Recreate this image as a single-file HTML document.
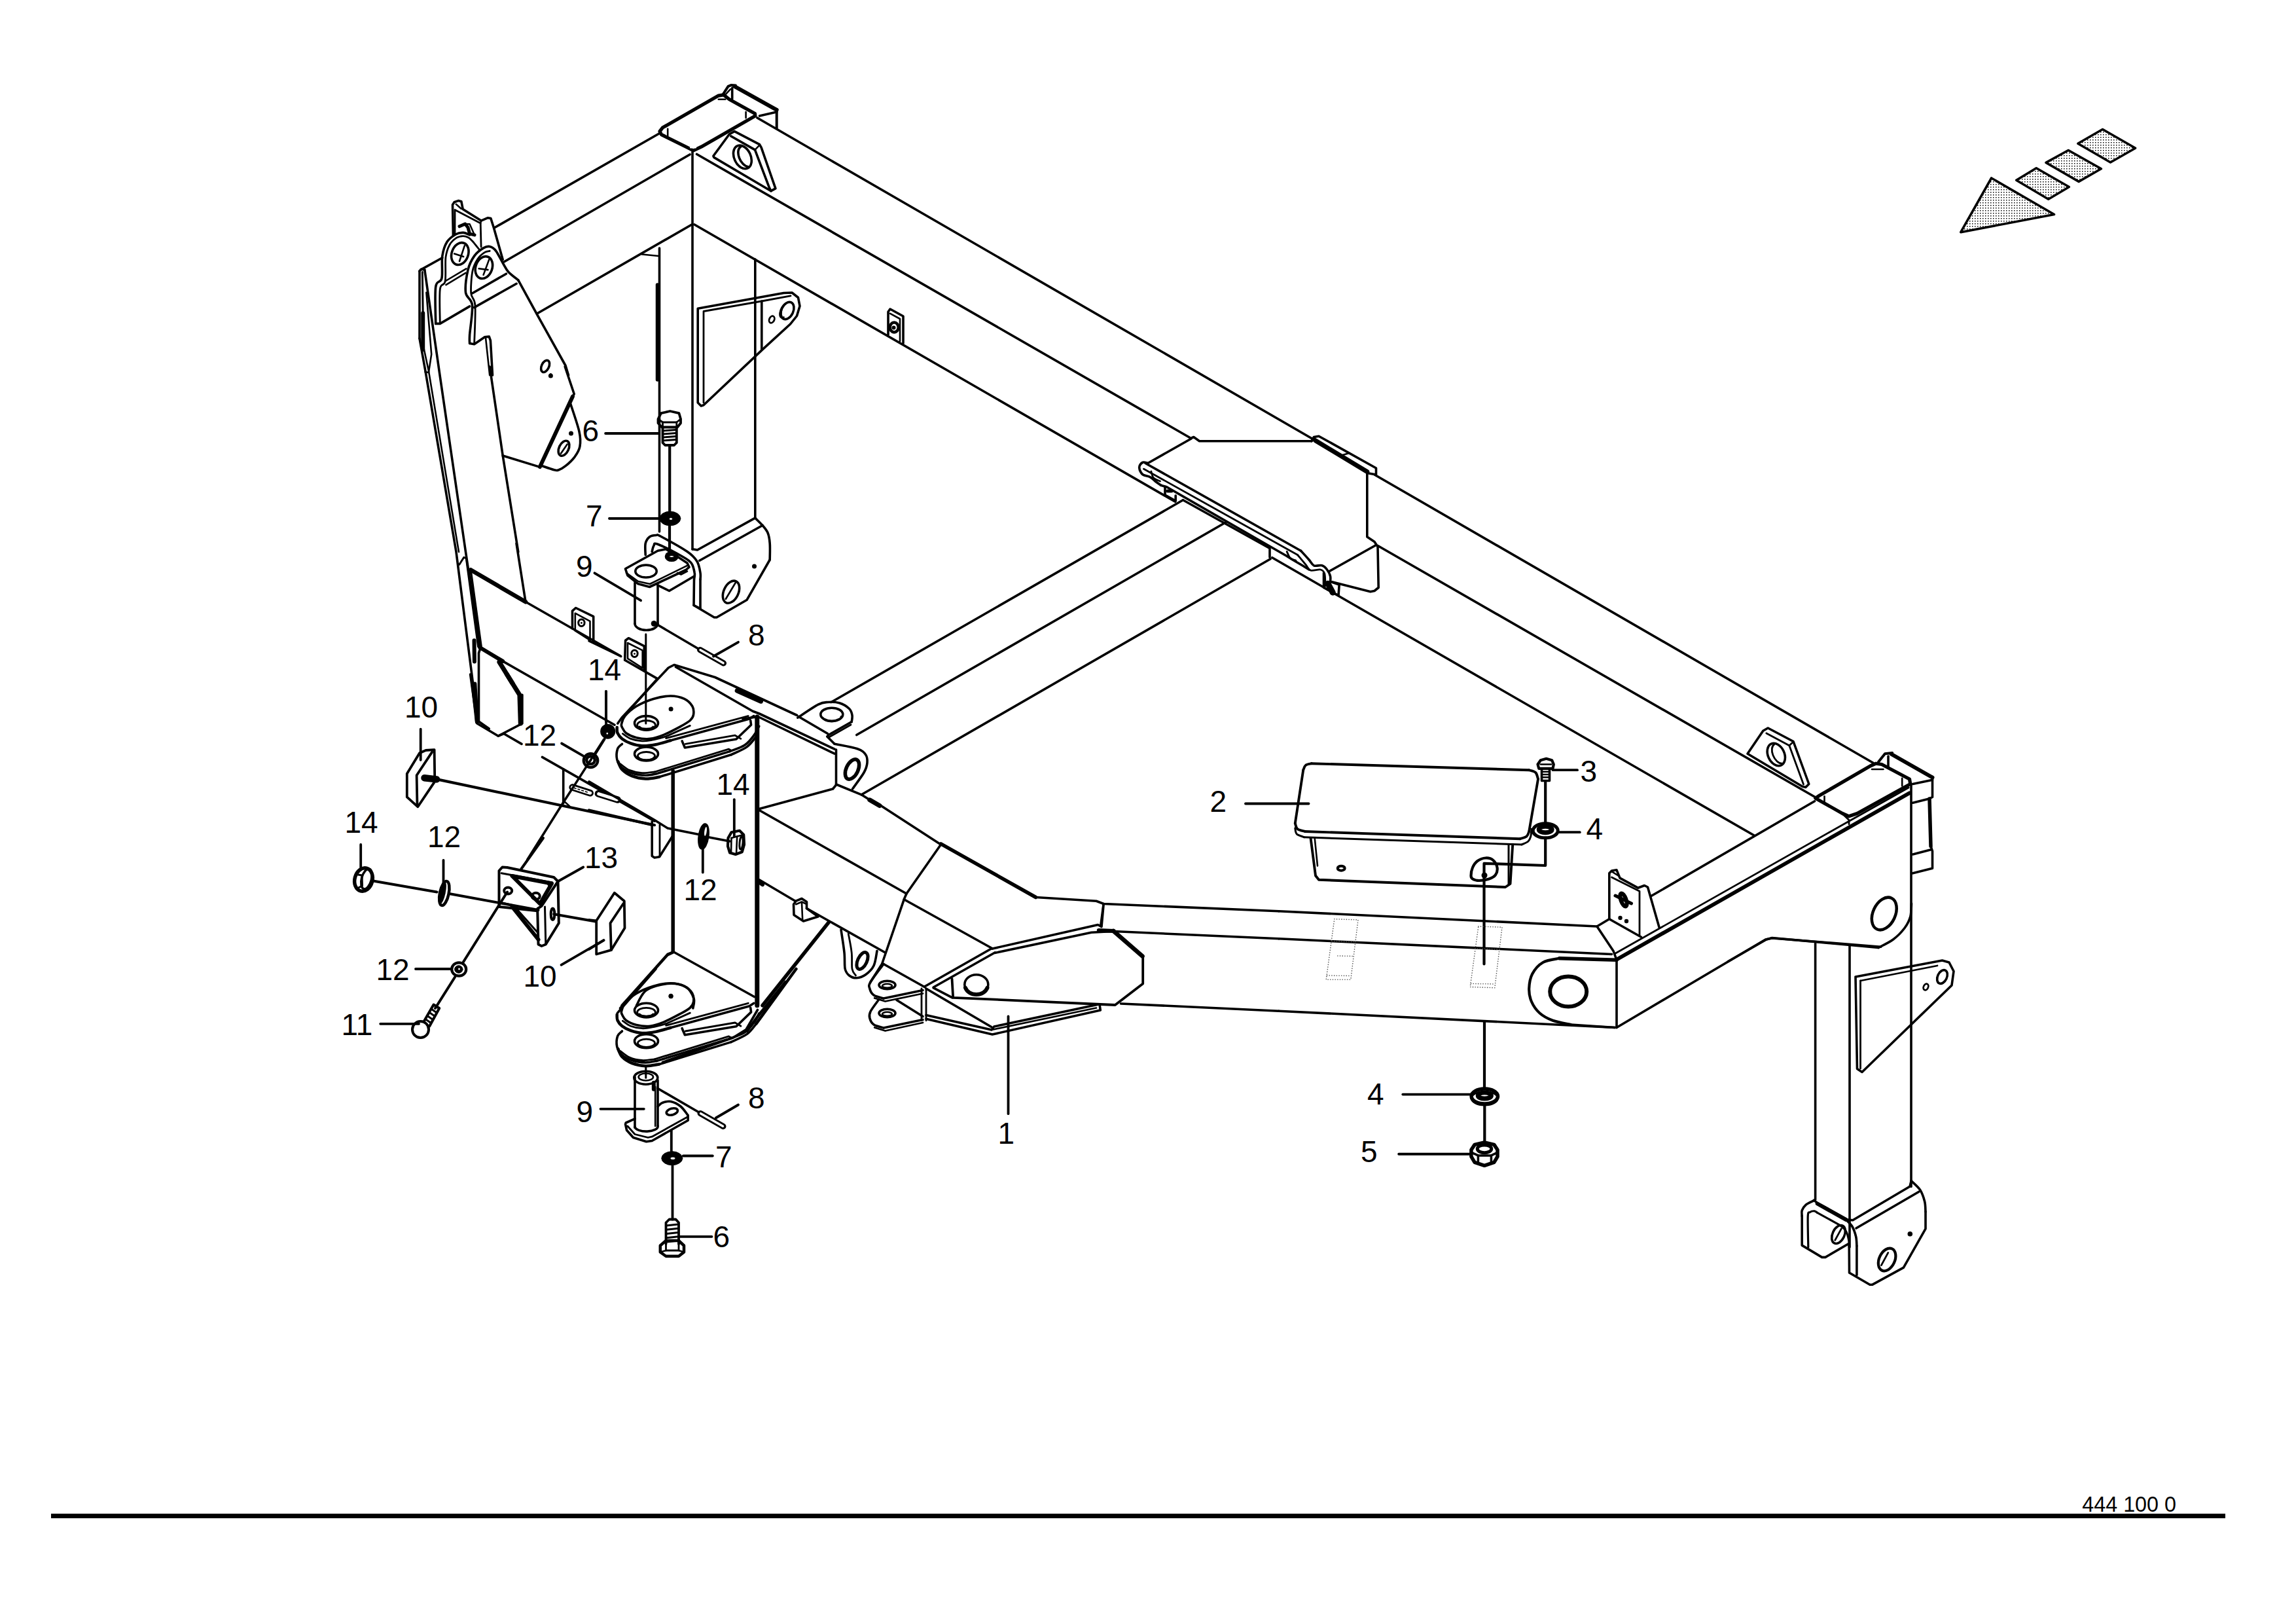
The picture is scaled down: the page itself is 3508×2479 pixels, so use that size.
<!DOCTYPE html>
<html><head><meta charset="utf-8"><title>444 100 0</title>
<style>
html,body{margin:0;padding:0;background:#fff}
svg{display:block}
text{font-family:"Liberation Sans",sans-serif;font-size:46px;fill:#000;stroke:none}
</style></head><body>
<svg width="3508" height="2479" viewBox="0 0 3508 2479" fill="none" stroke="#000" stroke-width="3.6" stroke-linecap="round" stroke-linejoin="round">
<defs><pattern id="dots" width="4" height="4" patternUnits="userSpaceOnUse"><rect width="4" height="4" fill="#fff" stroke="none"/><rect x="1" y="1" width="1.5" height="1.5" fill="#000" stroke="none"/></pattern></defs>
<rect x="0" y="0" width="3508" height="2479" fill="#fff" stroke="none"/>
<path d="M3042.6 272 L3138.5 327.5 L2995.8 354.7 Z" fill="url(#dots)"/>
<path d="M3111.2 256.7 L3161.3 285.5 L3129.7 304.2 L3080.7 275.2 Z" fill="url(#dots)"/>
<path d="M3160.2 229.5 L3210.3 257.8 L3176.1 277.4 L3126 248.4 Z" fill="url(#dots)"/>
<path d="M3212.5 197.5 L3262.6 226.2 L3224.5 248 L3174.8 219.3 Z" fill="url(#dots)"/>
<rect x="78" y="2312" width="3322" height="7" fill="#000" stroke="none"/>
<text x="3181.3" y="2308.6" style="font-size:32.3px">444 100 0</text>
<text x="889.5" y="674">6</text>
<text x="895" y="804">7</text>
<text x="880" y="881">9</text>
<text x="1143" y="986">8</text>
<text x="898" y="1038.5">14</text>
<text x="618" y="1096">10</text>
<text x="799" y="1138.5">12</text>
<text x="1094.5" y="1213.5">14</text>
<text x="526.5" y="1272">14</text>
<text x="653" y="1294">12</text>
<text x="893" y="1326">13</text>
<text x="1044.5" y="1375">12</text>
<text x="574.5" y="1497">12</text>
<text x="799.5" y="1507">10</text>
<text x="521.5" y="1581">11</text>
<text x="880.5" y="1714">9</text>
<text x="1143" y="1692.5">8</text>
<text x="1093" y="1782.5">7</text>
<text x="1089.5" y="1905">6</text>
<text x="1524.5" y="1747">1</text>
<text x="2089" y="1686.5">4</text>
<text x="2079" y="1775">5</text>
<text x="1848.5" y="1240">2</text>
<text x="2414.5" y="1193.5">3</text>
<text x="2423.5" y="1282">4</text>
<path d="M1008 200.7 L1012.3 195.1 L1097.8 146.1 L1105.6 144.9 L1114.3 151.8 L1153.5 173.6 L1153.9 177.1 L1071.6 224.2 L1059.4 230 L1048.1 224.2 L1010.6 205.6 Z" stroke-width="5.2"/>
<path d="M1020.2 196.7 L1020.2 207.6" stroke-width="2.6"/>
<path d="M1139.6 171 L1139.6 180.1" stroke-width="2.6"/>
<path d="M1097.8 151.8 L1108.2 151.8" stroke-width="2.6"/>
<path d="M1055 225.4 L1062.9 225.4" stroke-width="2.2" stroke="#fff"/>
<path d="M1104.7 144 L1112.6 131.8 L1116.9 130.1 L1123.9 130.6" stroke-width="4"/>
<path d="M1122.2 131.8 L1186.7 167.9" stroke-width="6"/>
<path d="M1186.7 166.7 L1186.7 195.4" stroke-width="4"/>
<path d="M1118.7 134.4 L1118.7 151"/>
<path d="M1160.5 177.1 L1186.7 171"/>
<path d="M1107.3 145.7 L1116.1 136.2" stroke-width="2.5"/>
<path d="M1122.2 200.7 L1160.5 220.7 L1163.1 225.1 L1184.9 287.9 L1178 291.7 L1090.8 240.4 L1089.9 238.2 L1114.3 205 Z"/>
<path d="M1116.9 208 L1153.5 228.9 L1174.8 285.2 L1178 291.7"/>
<path d="M1153.5 228.9 L1160.5 221.6" stroke-width="2.5"/>
<ellipse cx="1134.4" cy="239.9" rx="12.6" ry="18.8" transform="rotate(-25 1134.4 239.9)"/>
<path d="M1131.8 224.2 A9.6 16.6 -25 0 0 1143.1 254.7" />
<path d="M1007 204 L756 347.5"/>
<path d="M1054 236 L770 400"/>
<path d="M1057 343 L820.5 479"/>
<path d="M1058 232 L1058 839"/>
<path d="M1007.5 379 L1007.5 812"/>
<path d="M1153.8 396 L1153.8 791"/>
<path d="M1004.5 435 L1004.5 580" stroke-width="5.5"/>
<path d="M981 388.5 L1006 391" stroke-width="2.5"/>
<path d="M1157 180 L2013 674.7"/>
<path d="M2100.5 725.2 L2862 1165.3"/>
<path d="M1064.6 235.5 L1818 668.5"/>
<path d="M2105.5 833.7 L2775 1218.5"/>
<path d="M1061 343 L1795.5 766.3"/>
<path d="M2033 903.2 L2680 1276"/>
<path d="M1066.2 471.2 L1197.5 447.5 L1210 447 L1219.5 454.5 L1222 467.5 L1217.5 482.5 L1207.5 495 L1165 533.8 L1075 618.8 L1071.2 620 L1066.2 615 Z"/>
<path d="M1075 615 L1075 475.5 L1163.8 460 L1208 451.8" stroke-width="2.8"/>
<path d="M1163.8 460 L1163.8 533.8"/>
<ellipse cx="1203" cy="474.5" rx="9" ry="13.8" transform="rotate(25 1203 474.5)"/>
<path d="M1200 463.8 A5.5 11.2 25 0 0 1197.5 484.5" stroke-width="2.6"/>
<ellipse cx="1179.2" cy="488" rx="3.8" ry="5.5" stroke-width="2.8" transform="rotate(25 1179.2 488)"/>
<path d="M1357 511.2 L1357 476.2 L1360 472 L1380 483 L1380 524.2"/>
<path d="M1360 478.8 L1375 487 L1375 521.2" stroke-width="2.6"/>
<ellipse cx="1366.2" cy="500" rx="6.5" ry="7.5" stroke-width="4.5"/>
<circle cx="1365.5" cy="500.5" r="3" fill="#000" stroke="none"/>
<path d="M692.4 359.7 L691.5 312.7 L694.1 308.8 L700.2 306.6 L704.9 307.8 L707.2 319.6 L735.1 337.1 L745.5 332.7 L749.9 333.6 L754.3 347.5 L768.2 396.4"/>
<path d="M695 358 L695 320.5 L734.2 340.9 L735.1 377.2" stroke-width="2.8"/>
<path d="M735.1 337.1 L734.2 340.9" stroke-width="2.5"/>
<path d="M696.7 311.8 L704.6 318.8" stroke-width="2.5"/>
<path d="M702 345.8 L710.7 342 L715 347.5 L717.6 357.1 L725 358.9" stroke-width="5"/>
<path d="M711.5 342.3 L717.6 342.3 L724.6 358" stroke-width="2.5"/>
<path d="M665.7 494.4 C665.7 485 664.1 449.8 665.7 438.2 C667.2 426.7 673.2 433 674.9 425.1 C676.6 417.3 674.4 400.4 675.8 391.1 C677.2 381.8 679.6 374.9 683.1 369.3 C686.6 363.8 692.6 360 696.7 357.7 C700.9 355.3 704.6 355.2 708.1 355.4 C711.5 355.6 716 358.3 717.6 358.9"/>
<path d="M672.3 494 C672.3 485.4 671 452.8 672.3 442 C673.6 431.3 678.7 437.7 680.2 429.5 C681.6 421.3 679.9 402.2 681 392.9 C682.2 383.6 684.4 378.6 687.1 373.7 C689.9 368.8 694.3 365.4 697.6 363.2 C700.9 361.1 704.3 360.8 707.2 360.6 C710.1 360.5 712.6 361.1 715 362.4 C717.5 363.7 719.1 365.3 722 368.5 C724.9 371.7 730.7 379.4 732.5 381.5" stroke-width="2.8"/>
<path d="M665.7 494.4 L672.3 494.4 L717.6 467.9"/>
<path d="M680.2 429.5 L712.4 410.3" stroke-width="2.6"/>
<path d="M681.4 435.1 L711.5 416.9" stroke-width="2.6"/>
<ellipse cx="702.8" cy="387.6" rx="12.6" ry="17.4" transform="rotate(20 702.8 387.6)"/>
<path d="M694.1 387.6 L708.1 392" stroke-width="2.6"/>
<path d="M709.8 375.4 L702 399" stroke-width="2.6"/>
<path d="M717.6 524.5 C717.6 522.3 717 521.2 717.6 511.4 C718.3 501.7 722.5 476.9 721.5 466.1 C720.5 455.4 712.6 455.9 711.5 446.9 C710.5 437.9 712.9 421.4 715 412.1 C717.2 402.8 720.7 396.7 724.6 391.1 C728.5 385.6 734.5 381.3 738.6 378.9 C742.6 376.5 745.8 375.9 749 376.7 C752.2 377.4 754.6 379.1 757.8 383.3 C760.9 387.4 765 396.2 768.2 401.6 C771.4 407 773 411.2 776.9 415.5 C780.9 419.9 789.3 425.7 791.8 427.8"/>
<path d="M791.8 427.8 L821.4 481.8 L864.1 558.5 L868.5 573"/>
<path d="M724.6 525.4 C724.9 515.7 726.8 479.9 726 467 C725.2 454.1 720.4 456.7 719.7 447.8 C719.1 438.9 720.3 422.5 722 413.8 C723.7 405.1 726.8 400.2 729.9 395.5 C732.9 390.8 737.3 387.6 740.3 385.6 C743.4 383.5 746.9 383.7 748.2 383.3" stroke-width="2.8"/>
<ellipse cx="739.4" cy="408.6" rx="12.6" ry="17.4" transform="rotate(20 739.4 408.6)"/>
<path d="M731.6 410.3 L745.5 412.1" stroke-width="2.6"/>
<path d="M747.3 396.4 L738.6 419.9" stroke-width="2.6"/>
<path d="M717.6 524.5 L724.6 525.7 L740.3 514.9 L747.3 514.1 L749.4 520.2 L752.5 573"/>
<path d="M742.1 516.7 L748.2 573" stroke-width="2.6"/>
<path d="M722 447.8 L773.4 418.2"/>
<path d="M724.6 469.6 L789.1 433.3"/>
<path d="M642.7 412.1 L675.8 393.7"/>
<path d="M640.9 414.1 L643.5 411.2 L648.8 412.1"/>
<path d="M641 414 L641 517"/>
<path d="M641 517 L650 567 L697 843 L730 1102"/>
<path d="M645 520 L655 567 L701 843" stroke-width="2.6"/>
<path d="M648.8 412 L672 573 L711.5 843 L733 987"/>
<path d="M646.2 478.3 L646.2 534.1" stroke-width="6"/>
<path d="M645.3 415.5 L646.2 478.3" stroke-width="3"/>
<path d="M649.6 568.1 L654.9 569 L659.2 541.1 L651.4 446.9" stroke-width="2.6"/>
<ellipse cx="833.1" cy="559.4" rx="5.6" ry="9.6" transform="rotate(25 833.1 559.4)"/>
<circle cx="841.4" cy="571.6" r="1.7" fill="#000" stroke="none"/>
<path d="M748.2 560 L768.2 696 L791.8 843"/>
<path d="M768.2 696 L824.9 713.4"/>
<path d="M824.9 713.1 L874.9 605.7" stroke-width="6"/>
<path d="M863.2 560 L877.2 601.8 L874.9 605.7"/>
<path d="M872 617.5 C874.1 624.5 882.7 648.6 885 659.4 C887.4 670.1 887.1 675.7 885.9 682.1 C884.7 688.5 881.7 692.8 878.1 697.8 C874.4 702.7 868.2 708.4 864.1 711.7 C860 715 856.6 716.8 853.7 717.8 C850.7 718.8 850.7 718.8 846.7 717.8 C842.6 716.8 832.1 713 829.2 712"/>
<ellipse cx="861.5" cy="684.7" rx="7.3" ry="12.2" transform="rotate(25 861.5 684.7)"/>
<path d="M857.1 692.5 L866.7 678.6" stroke-width="2.6"/>
<circle cx="872.5" cy="662" r="3.5" fill="#000" stroke="none"/>
<circle cx="841.4" cy="573.9" r="3.5" fill="#000" stroke="none"/>
<path d="M925.1 662 L1007.1 662" stroke-width="3.8"/>
<path d="M931.2 791.9 L1008.8 791.9" stroke-width="3.8"/>
<path d="M719.3 870.5 L803 919.3" stroke-width="6.5"/>
<path d="M803 919.3 L947.7 1001.8"/>
<path d="M789 830 L803 919.3"/>
<path d="M733.2 989 L768.1 1009.9" stroke-width="6"/>
<path d="M768.1 1009.9 L939 1107.2"/>
<path d="M719.3 869.2 L719.3 872.7 L735 986.9 L731.5 997.4 L731.5 1102 L747.2 1113"/>
<path d="M724.5 978.2 L724.9 1010.5" stroke-width="6"/>
<path d="M701.8 862.3 L708.8 851.3 L712.3 852.7 L730.6 987.8" stroke-width="3"/>
<path d="M725.4 1044.5 L728.9 1102" stroke-width="6"/>
<path d="M874.5 959.9 L874.5 933.2 L879.7 928.5 L906.7 941.6 L906.7 980.3"/>
<path d="M878.8 936.7 L901.5 948.9 L901.5 977.9 L878.8 963.4 Z" stroke-width="2.6"/>
<ellipse cx="888.4" cy="951.2" rx="4.7" ry="5.2" stroke-width="3"/>
<circle cx="888.4" cy="951.5" r="1.4" fill="#000" stroke="none"/>
<path d="M954.7 1008.2 L955.6 978.2 L960.3 974.7 L984.3 986.9 L984.3 1023.2"/>
<path d="M959 982 L981.7 993.4 L981.7 1020.4 L959 1005.8 Z" stroke-width="2.6"/>
<ellipse cx="969.5" cy="998.3" rx="4.7" ry="5.2" stroke-width="3"/>
<circle cx="969.5" cy="998.6" r="1.4" fill="#000" stroke="none"/>
<path d="M954.7 1008.2 L1004.4 1036.6"/>
<path d="M908.5 875.3 L979.1 917.2" stroke-width="3.8"/>
<path d="M925.9 1055.8 L925.9 1102" stroke-width="3.8"/>
<path d="M718.6 1030 L729 1105 L761.3 1124.2 L797.9 1105 L797.9 1061.4"/>
<path d="M774.4 1030 L793.9 1061.4 L795.3 1105" stroke-width="7"/>
<path d="M762.9 1011.3 L782.9 1043.6" stroke-width="7"/>
<path d="M722.1 1043.9 L728.7 1103.2" stroke-width="5.5"/>
<path d="M761.3 1124.2 L770 1120.7 L797 1136.4"/>
<path d="M858.1 1135.5 L891.2 1154.7" stroke-width="3.8"/>
<path d="M828.4 1156.4 L1000 1254.1"/>
<path d="M860.7 1174.7 L860.7 1227"/>
<path d="M860.7 1222.7 L870.3 1231.4" stroke-width="2.6"/>
<path d="M668 1190.4 L1000 1260.2" stroke-width="4.2"/>
<path d="M648.5 1188.2 L667.1 1190.4" stroke-width="10.5"/>
<path d="M664.2 1186.9 L663.6 1145.1 L650.6 1146 L641 1150.3 L621.8 1181.7 L621.8 1217.4 L638.4 1232.3 L664.2 1193.9" stroke-width="3.8"/>
<path d="M660.2 1148.6 L636.6 1184.3 L637.5 1230.5" stroke-width="3.8"/>
<path d="M642.7 1113.7 L642.7 1160.8" stroke-width="3.8"/>
<path d="M874.6 1202.6 L901.7 1211.3" stroke-width="10.5"/>
<path d="M874.6 1202.6 L901.7 1211.3" stroke-width="5" stroke="#fff"/>
<path d="M877.2 1203.5 L899 1210.5" stroke-width="1.5" stroke-dasharray="3 3"/>
<path d="M913.9 1212.2 L943.5 1221.5" stroke-width="10.5"/>
<path d="M914.7 1212.6 L942.6 1221.3" stroke-width="5" stroke="#fff"/>
<path d="M922.6 1129.4 L879 1197.4 L859.8 1227 L805.8 1313"/>
<circle cx="928.7" cy="1117.2" r="11.5" fill="#000" stroke="none"/>
<circle cx="927.8" cy="1119.8" r="0" fill="#000" stroke="none"/>
<ellipse cx="927.8" cy="1120.3" rx="2.4" ry="2.4" stroke-width="2" fill="#fff"/>
<ellipse cx="902.5" cy="1161.6" rx="10.8" ry="10.5" stroke-width="4.2"/>
<ellipse cx="902.5" cy="1161.1" rx="6.3" ry="5.9" stroke-width="4.5"/>
<circle cx="902.5" cy="1161.6" r="1.7" fill="#000" stroke="none"/>
<path d="M926.1 1056.2 L926.1 1106.7" stroke-width="3.8"/>
<path d="M1058 838.8 L1065.5 840 L1153.8 791.2"/>
<path d="M1068.8 856.2 L1165 802.5"/>
<path d="M1153.8 791.2 C1155.6 793.1 1161.8 798.8 1165 802.5 C1168.2 806.2 1171.1 809.2 1173 813.8 C1174.9 818.3 1175.7 823.1 1176.2 830 C1176.8 836.9 1176.2 850.8 1176.2 855"/>
<path d="M1176.2 855 L1141.2 916.2 L1095 943 L1091.2 943 L1060 924.5"/>
<path d="M986.2 847.5 C986.2 844.6 985.2 834.6 986.2 830 C987.3 825.4 989.8 822.1 992.5 820 C995.2 817.9 999.6 817.6 1002.5 817.5 C1005.4 817.4 1002.1 815.3 1010 819.5 C1017.9 823.7 1040.8 836.2 1050 842.5 C1059.2 848.8 1061.7 852.1 1065 857.5 C1068.3 862.9 1069.2 870.4 1070 875 C1070.8 879.6 1070 883.3 1070 885"/>
<path d="M1070 885 L1070 929.5"/>
<path d="M996.2 842.5 C996.7 841 997.3 835.6 998.8 833.8 C1000.2 831.9 997.7 828.5 1005 831.2 C1012.3 834 1034 845.2 1042.5 850 C1051 854.8 1053.1 855.8 1056.2 860 C1059.4 864.2 1060.5 870.8 1061.2 875 C1062 879.2 1060.6 883.3 1060.5 885"/>
<path d="M1060.5 885 L1060 924.5 L1070 929.5"/>
<ellipse cx="1117" cy="904.2" rx="11.2" ry="18" transform="rotate(25 1117 904.2)"/>
<path d="M1108.8 915 L1123.8 890" stroke-width="2.6"/>
<circle cx="1152.5" cy="865" r="3.5" fill="#000" stroke="none"/>
<ellipse cx="1023.8" cy="792" rx="16" ry="10.8" stroke-width="1" fill="#000"/>
<ellipse cx="1025" cy="792.5" rx="2.2" ry="1.5" stroke-width="0.1" fill="#fff"/>
<path d="M931.2 791.8 L1007.5 791.8" stroke-width="3.8"/>
<path d="M1023 801.2 L1023 846.2" stroke-width="4.2"/>
<path d="M955.5 868.8 L1005 841.2 L1017.5 838.8 L1050 860 L1053 866.2 L1048 870.5 L1000 893 L992.5 896.5 L975 891.8 L958.8 878.8 Z"/>
<path d="M957 875 L975 888 L993 892 L1050 863.8" stroke-width="2.6"/>
<ellipse cx="987" cy="872.5" rx="16.2" ry="9.5"/>
<ellipse cx="1026.2" cy="850" rx="7" ry="4.5" stroke-width="7"/>
<path d="M1005 893.8 L1022.5 902.5 L1060 880.5"/>
<path d="M1035 875 L1040.5 877.5 L1050 872.5" stroke-width="2.6"/>
<path d="M970 890 L970 952.5"/>
<path d="M1005 893.8 L1005 952.5"/>
<path d="M970 952.5 A17.5 10 0 0 0 1005 952.5"/>
<circle cx="999.2" cy="952.5" r="4.5" fill="#000" stroke="none"/>
<path d="M986.8 968.8 L986.8 1105" stroke-width="3"/>
<path d="M1003.8 953.8 L1067.5 991.2"/>
<path d="M1069.5 992.5 L1105.5 1013" stroke-width="9"/>
<path d="M1070 992.8 L1105 1012.8" stroke-width="3.5" stroke="#fff"/>
<path d="M1128 980.8 L1090 1002.5" stroke-width="3.8"/>
<path d="M900 978.8 L948.8 1002.5"/>
<path d="M943.8 1105 L950 1096.2 L1021.2 1020 L1030 1015.5 L1092.5 1034.5 L1217.5 1092.5"/>
<path d="M1032.5 1018.8 L1150 1086.2 L1160 1090 L1275 1144.2"/>
<path d="M1003.8 1037.5 L962.5 1083.8"/>
<path d="M1135 1098 L1152.5 1095.5 L1160 1095.5 L1275 1151.2"/>
<path d="M1126.2 1055 L1162.5 1071.2" stroke-width="7"/>
<path d="M923.8 1128.8 L907.5 1155"/>
<path d="M1218.8 1096.2 C1224 1092.9 1242.3 1080.2 1250 1076.2 C1257.7 1072.3 1259.6 1072.9 1265 1072.5 C1270.4 1072.1 1277.1 1072.1 1282.5 1073.8 C1287.9 1075.4 1294.2 1079.4 1297.5 1082.5 C1300.8 1085.6 1301.4 1089.2 1302 1092.5 C1302.6 1095.8 1301.4 1100.8 1301.2 1102.5"/>
<path d="M1301.2 1102.5 L1266.2 1122.5 L1263.8 1125 L1275 1136.2"/>
<path d="M1267.5 1125.5 L1300 1107" stroke-width="2.8"/>
<ellipse cx="1270.8" cy="1091.2" rx="17" ry="10"/>
<path d="M1257 1096.2 A13.8 6.5 0 0 0 1285 1094.5" stroke-width="2.8"/>
<path d="M1220 1094.5 L1264.5 1120.5"/>
<path d="M1275 1136.2 C1280.8 1137.5 1302.1 1141 1310 1143.8 C1317.9 1146.5 1320 1149 1322.5 1152.5 C1325 1156 1325.4 1160.4 1325 1165 C1324.6 1169.6 1323.8 1173.3 1320 1180 C1316.2 1186.7 1305.4 1200.8 1302.5 1205"/>
<path d="M1277.5 1145 L1277.5 1198.8 L1272.5 1205 L1160 1235.5"/>
<path d="M1277.5 1198 L1316.2 1213.8 L1330 1222.5"/>
<ellipse cx="1302" cy="1175" rx="9" ry="16.2" stroke-width="5.5" transform="rotate(25 1302 1175)"/>
<path d="M1328.8 1221.8 L1343.8 1230.5" stroke-width="7"/>
<path d="M1270 1072.5 L1807.5 763.8"/>
<path d="M1308.8 1122.5 L1872.5 798"/>
<path d="M1316.2 1213.8 L1941 853.8"/>
<path d="M1028.2 1177.5 L1028.2 1453.8" stroke-width="5.5"/>
<path d="M1156.8 1095 L1156.8 1535.8" stroke-width="7"/>
<path d="M900 1237.5 L996.2 1260" stroke-width="4.2"/>
<path d="M900 1193.8 L1000 1252.5 L1020 1265 L1070 1275"/>
<path d="M1082.5 1278.8 L1115 1285"/>
<path d="M996.2 1255 L996.2 1307.5 L1000 1310 L1007.5 1308.8 L1028.8 1275"/>
<path d="M1008 1260 L1008 1307.5" stroke-width="2.8"/>
<ellipse cx="1075" cy="1277.5" rx="7" ry="19" stroke-width="3" fill="#000" transform="rotate(8 1075 1277.5)"/>
<ellipse cx="1078" cy="1270" rx="1.8" ry="7" stroke-width="0.1" fill="#fff" transform="rotate(8 1078 1270)"/>
<path d="M1073.8 1292.5 L1073.8 1332.5" stroke-width="3.8"/>
<path d="M1112.5 1280 L1117.5 1271.2 L1130 1268.8 L1136.2 1275 L1137 1290 L1133.8 1301.2 L1123.8 1305 L1115 1302.5 L1112 1292.5 Z" stroke-width="4.2"/>
<path d="M1117.5 1280 L1126.2 1277.5 L1136.2 1275" stroke-width="2.6"/>
<path d="M1117.5 1280 L1117 1302.5" stroke-width="2.6"/>
<path d="M1126.2 1277.5 L1125 1303.8" stroke-width="2.6"/>
<ellipse cx="1132.5" cy="1287.5" rx="2.5" ry="10" stroke-width="3" transform="rotate(5 1132.5 1287.5)"/>
<path d="M1121.8 1221.2 L1121.8 1277.5" stroke-width="3.8"/>
<path d="M1160 1237.5 L1385 1365"/>
<path d="M1345 1230 L1437.5 1290"/>
<path d="M1437.5 1290 L1385 1365 L1381.2 1373.8 L1347.5 1472.5 L1330 1500"/>
<path d="M1160 1343.8 L1215 1376.2"/>
<path d="M1232.5 1387.5 L1352.5 1455"/>
<path d="M1160 1347.5 L1165 1351.2" stroke-width="6"/>
<path d="M1212.5 1381.2 L1216.2 1376.2 L1225 1372.5 L1232.5 1377.5 L1232.5 1387.5 L1250 1400 L1227.5 1407 L1213 1397.5 L1212.5 1381.2"/>
<path d="M1216.2 1381.2 L1225 1377.5 L1232.5 1381.2" stroke-width="2.6"/>
<path d="M1225 1378.8 L1226.2 1405" stroke-width="2.6"/>
<path d="M1266.2 1408.8 L1165 1535.8" stroke-width="5.5"/>
<path d="M911.2 1406.2 L938.8 1363.8 L953.8 1376.2 L954.5 1417.5 L933.8 1451.2 L911.2 1457.5 Z" stroke-width="3.8"/>
<path d="M952.5 1380 L932.5 1410 L933.8 1451.2" stroke-width="3.8"/>
<path d="M911.2 1406.2 L900 1405"/>
<path d="M900 1450 L922.5 1436.2" stroke-width="3.8"/>
<path d="M950 1535.8 L1020 1457.5 L1028.8 1453.8 L1152.5 1522.5"/>
<path d="M972.5 1535.8 C975 1531.9 979.6 1518 987.5 1512.5 C995.4 1507 1010 1503.3 1020 1502.5 C1030 1501.7 1040.8 1503.8 1047.5 1507.5 C1054.2 1511.2 1058.1 1519.6 1060 1525 C1061.9 1530.4 1059 1537.5 1058.8 1540"/>
<circle cx="1025" cy="1521.2" r="3.5" fill="#000" stroke="none"/>
<path d="M551.2 1290 L551.2 1326.2" stroke-width="3.8"/>
<ellipse cx="555.5" cy="1343.5" rx="13.5" ry="18" stroke-width="5.5" transform="rotate(15 555.5 1343.5)"/>
<ellipse cx="560" cy="1342.5" rx="7.5" ry="15.8" stroke-width="3.5" transform="rotate(15 560 1342.5)"/>
<path d="M544.5 1335.5 L553 1337 L553.5 1353 L546.5 1356.5" stroke-width="3"/>
<path d="M570 1345.5 L667.5 1362.5" stroke-width="4"/>
<path d="M686.2 1365 L822.5 1390" stroke-width="4"/>
<ellipse cx="678.8" cy="1364.5" rx="6.8" ry="18.8" stroke-width="4.5" transform="rotate(12 678.8 1364.5)"/>
<ellipse cx="676.8" cy="1363.8" rx="3.8" ry="16.5" stroke-width="0.1" fill="#000" transform="rotate(12 676.8 1363.8)"/>
<path d="M677.5 1313.8 L677.5 1350" stroke-width="3.8"/>
<path d="M762.5 1385 L762.5 1330 L767.5 1324.5 L775 1325 L846.2 1340 L852.5 1346.2 L853.8 1410 L833.8 1442.5 L827.5 1445 L822.5 1442.5 L821.2 1390" stroke-width="4"/>
<path d="M766.2 1333.8 L843.8 1348" stroke-width="3"/>
<path d="M762.5 1385 L821.2 1391.2" stroke-width="4"/>
<path d="M766.2 1378.8 L782.5 1382.5" stroke-width="3"/>
<path d="M782.5 1338 L843 1349.5 L825 1380.5 Z" stroke-width="6"/>
<path d="M835 1347.5 L841.2 1355" stroke-width="3"/>
<path d="M852.5 1346.2 L827.5 1383.8 L821.2 1388" stroke-width="4"/>
<path d="M832.5 1385 L833.8 1442.5" stroke-width="3"/>
<path d="M782.5 1385 L822.5 1435" stroke-width="6"/>
<path d="M787.5 1386.2 L822 1425" stroke-width="3"/>
<ellipse cx="776.2" cy="1360.5" rx="6" ry="5" stroke-width="4"/>
<ellipse cx="818.8" cy="1368.8" rx="6" ry="5" stroke-width="4"/>
<ellipse cx="844.5" cy="1396.2" rx="2.8" ry="8.8" stroke-width="4"/>
<path d="M891.2 1324.5 L853.8 1345.5" stroke-width="3.8"/>
<path d="M830 1280 L796.2 1327.5" stroke-width="4"/>
<path d="M775 1362.5 L707.5 1470" stroke-width="4"/>
<path d="M695 1492.5 L665 1540" stroke-width="4"/>
<ellipse cx="701.2" cy="1480.5" rx="11" ry="10.2" stroke-width="4.2"/>
<ellipse cx="700.8" cy="1480.5" rx="6.2" ry="5.8" stroke-width="1" fill="#000"/>
<ellipse cx="701.5" cy="1480" rx="1.5" ry="1.5" stroke-width="0.1" fill="#fff"/>
<path d="M635 1480 L688.8 1480" stroke-width="3.8"/>
<ellipse cx="642.5" cy="1572.5" rx="12.5" ry="12.5" stroke-width="4"/>
<path d="M647.5 1560.5 L662.5 1534.5 L671.2 1540 L656.2 1567.5" stroke-width="4"/>
<path d="M649.8 1556.6 L658.5 1562.6" stroke-width="3"/>
<path d="M652.8 1551.4 L661.5 1557.4" stroke-width="3"/>
<path d="M655.8 1546.2 L664.5 1552.2" stroke-width="3"/>
<path d="M658.8 1541 L667.5 1547" stroke-width="3"/>
<path d="M581.2 1563.8 L640 1563.8" stroke-width="3.8"/>
<path d="M846.2 1396.2 L910 1407.5" stroke-width="4"/>
<path d="M857.5 1473.8 L922.5 1436.2" stroke-width="3.8"/>
<path d="M947.5 1540 L1020 1458.8 L1028 1455"/>
<ellipse cx="986.8" cy="1646.2" rx="18" ry="10"/>
<ellipse cx="986.8" cy="1645" rx="11.2" ry="5.5" stroke-width="2.6"/>
<path d="M986.8 1630 L986.8 1646.2" stroke-width="3"/>
<path d="M1157.5 1542.5 L1140 1572.5 L1120 1585 L1012.5 1622.5"/>
<path d="M1200 1500 L1158.8 1551.2 L1141.2 1575" stroke-width="4.5"/>
<path d="M970 1645 L970 1722.5"/>
<path d="M1005 1650 L1005 1720"/>
<path d="M1001.2 1660 L1001.2 1720" stroke-width="2.6"/>
<path d="M970 1721.2 A17.5 7.5 0 0 0 1005 1720"/>
<path d="M998.8 1653.8 L998.8 1663.8" stroke-width="6"/>
<path d="M956.2 1715 L970 1708.8"/>
<path d="M1005 1690 C1006.2 1689 1009.2 1685.5 1012.5 1684.2 C1015.8 1683 1020.4 1681.5 1025 1682.5 C1029.6 1683.5 1035.6 1686.5 1040 1690 C1044.4 1693.5 1049.4 1701.5 1051.2 1703.8"/>
<path d="M1051.2 1703.8 L1051.2 1711.2 L996.2 1742.5 L987.5 1743.8 L967.5 1737.5 L957.5 1726.2 L955.5 1717"/>
<path d="M958.8 1720 L970 1732.5 L990 1737.5 L996.2 1736.2 L1050 1706.2" stroke-width="2.8"/>
<ellipse cx="1026.8" cy="1698" rx="8.8" ry="4.8" transform="rotate(-15 1026.8 1698)"/>
<path d="M917.5 1693.8 L983.8 1693.8" stroke-width="3.8"/>
<path d="M1005 1662.5 L1067.5 1698.8"/>
<path d="M1070 1700.5 L1105 1720.5" stroke-width="9"/>
<path d="M1070.5 1700.8 L1104.5 1720.2" stroke-width="3.5" stroke="#fff"/>
<path d="M1128 1687.5 L1093.8 1707.5" stroke-width="3.8"/>
<path d="M1025.8 1727.5 L1025.8 1760" stroke-width="3.8"/>
<path d="M1027.5 1780 L1027.5 1862.5" stroke-width="3.8"/>
<ellipse cx="1026.8" cy="1769.2" rx="16" ry="10.5" stroke-width="1" fill="#000"/>
<ellipse cx="1028" cy="1769.2" rx="3.5" ry="1.8" stroke-width="0.1" fill="#fff"/>
<path d="M1043.8 1765.5 L1088.8 1765.5" stroke-width="3.8"/>
<path d="M1017.5 1900 L1017.5 1867.5 L1022.5 1862.5 L1032.5 1862.5 L1037 1867.5 L1037 1900" stroke-width="3.8"/>
<path d="M1018 1872 L1036.5 1870" stroke-width="3"/>
<path d="M1018 1878.2 L1036.5 1876.2" stroke-width="3"/>
<path d="M1018 1884.5 L1036.5 1882.5" stroke-width="3"/>
<path d="M1018 1890.8 L1036.5 1888.8" stroke-width="3"/>
<path d="M1018 1897 L1036.5 1895" stroke-width="3"/>
<path d="M1037.5 1888.8 L1087.5 1888.8" stroke-width="3.8"/>
<path d="M1008.8 1902.5 L1017.5 1895 L1037 1895 L1045 1902.5 L1045 1912.5 L1037 1918.8 L1017.5 1918.8 L1008.8 1912.5 Z" stroke-width="4.5"/>
<path d="M1017.5 1895 L1017.5 1910 L1008.8 1912.5" stroke-width="2.8"/>
<path d="M1037 1895 L1037 1910 L1045 1912.5" stroke-width="2.8"/>
<path d="M1017.5 1910 L1037 1910" stroke-width="2.8"/>
<path d="M1437.5 1288.8 L1582.5 1370.5" stroke-width="5.5"/>
<path d="M1582.5 1370.5 L1675 1376.2 L1686.2 1380.5 L1953.8 1391.8"/>
<path d="M1516.2 1449 L1677.5 1412.5 L1683 1415.5 L1686.2 1380.5"/>
<path d="M1681.2 1415 L1685.5 1382.5" stroke-width="2.8"/>
<path d="M1520 1455.5 L1667.5 1424.2 L1701.2 1422.5"/>
<path d="M1678.8 1421 L1701.2 1422" stroke-width="6"/>
<path d="M1701.2 1422 L1745.5 1460.5" stroke-width="6.5"/>
<path d="M1746.2 1460 L1746.2 1502.5 L1703.8 1535 L1456.2 1523.8 L1454.5 1495" stroke-width="3.8"/>
<path d="M1701.2 1422.5 L1953.8 1433.8"/>
<path d="M1712.5 1533 L1953.8 1544.2"/>
<ellipse cx="1491.8" cy="1503.8" rx="18" ry="15"/>
<path d="M1475 1508.8 A17.5 14.5 0 0 0 1508.5 1508.8" stroke-width="6"/>
<path d="M1285 1420 C1285.8 1425.8 1289 1445 1290 1455 C1291 1465 1290 1474.2 1291.2 1480 C1292.5 1485.8 1294.6 1487.7 1297.5 1490 C1300.4 1492.3 1304.6 1494 1308.8 1493.8 C1312.9 1493.5 1318.1 1491.9 1322.5 1488.8 C1326.9 1485.6 1332.1 1481 1335 1475 C1337.9 1469 1339.2 1456.2 1340 1452.5"/>
<path d="M1296.2 1426.2 C1297.1 1431 1300.3 1446 1301.2 1455 C1302.2 1464 1301 1474.2 1302 1480 C1303 1485.8 1306.6 1488.3 1307.5 1490" stroke-width="2.8"/>
<ellipse cx="1317.5" cy="1467.5" rx="7" ry="13.8" stroke-width="5" transform="rotate(25 1317.5 1467.5)"/>
<path d="M1412.5 1507 L1515 1448.8"/>
<path d="M1426.2 1508 L1520 1455"/>
<path d="M1350 1472.5 L1412.5 1507.5"/>
<path d="M1381.2 1373.8 L1516.2 1448.8"/>
<path d="M1350 1472.5 C1346.7 1477.1 1333.5 1493.8 1330 1500 C1326.5 1506.2 1327.9 1506.7 1328.8 1510 C1329.6 1513.3 1331.5 1517.5 1335 1520 C1338.5 1522.5 1347.5 1524.2 1350 1525"/>
<path d="M1350 1525 L1410 1512.5"/>
<path d="M1336.2 1524.5 L1352.5 1529.5 L1410 1517.5" stroke-width="2.8"/>
<ellipse cx="1355.5" cy="1504.5" rx="12.5" ry="6.2"/>
<ellipse cx="1355.5" cy="1505.8" rx="7.5" ry="3" stroke-width="2.6"/>
<path d="M1370 1527.5 L1410 1552.5"/>
<path d="M1342.5 1527 C1340.4 1530 1332.3 1540.3 1330 1545 C1327.7 1549.7 1327.9 1551.7 1328.8 1555 C1329.6 1558.3 1331.5 1562.5 1335 1565 C1338.5 1567.5 1347.5 1569.2 1350 1570"/>
<path d="M1350 1570 L1410 1557.5"/>
<path d="M1336.2 1569.5 L1352.5 1574.5 L1410 1562" stroke-width="2.8"/>
<ellipse cx="1355.5" cy="1547.5" rx="12.5" ry="6.2"/>
<ellipse cx="1355.5" cy="1548.8" rx="7.5" ry="3" stroke-width="2.6"/>
<path d="M1408 1510 L1408 1558.8" stroke-width="2.8"/>
<path d="M1415 1510 L1415 1558.8" stroke-width="2.8"/>
<path d="M1415 1510 L1515 1568.8"/>
<path d="M1426.2 1508.8 L1455 1523.8"/>
<path d="M1415 1550.5 L1515 1573 L1518.8 1568 L1680 1533.8 L1681.2 1542.5"/>
<path d="M1415 1556.2 L1516.2 1580 L1681.2 1543"/>
<path d="M1515 1573 L1675 1539.5" stroke-width="2.6"/>
<path d="M1540.5 1552.5 L1540.5 1701.2" stroke-width="3.8"/>
<path d="M1953.8 1391.8 L2440 1415"/>
<path d="M1953.8 1433.8 L2462.5 1457.5"/>
<path d="M1953.8 1544.2 L2467.5 1569.5"/>
<path d="M2458.8 1403.8 L2440 1415 L2465 1452.5 L2470 1466.2 L2470 1569.5"/>
<path d="M2470 1466.2 L2382.5 1463.8" stroke-width="5.5"/>
<path d="M2382.5 1463.8 C2378.3 1464.8 2364.4 1466 2357.5 1470 C2350.6 1474 2344.8 1480.8 2341.2 1487.5 C2337.7 1494.2 2336.5 1502.9 2336.2 1510 C2336 1517.1 2337.3 1523.8 2340 1530 C2342.7 1536.2 2347.1 1542.7 2352.5 1547.5 C2357.9 1552.3 2364.6 1555.8 2372.5 1558.8 C2380.4 1561.7 2395.4 1564 2400 1565" stroke-width="4.2"/>
<path d="M2400 1565 L2467.5 1569.5"/>
<ellipse cx="2396.2" cy="1514.5" rx="28" ry="23" stroke-width="6"/>
<path d="M2468 1456.2 L2823.8 1255 L2916.2 1203" stroke-width="2.8"/>
<path d="M2472 1464.5 L2917.5 1211.2" stroke-width="5.8"/>
<path d="M2522.5 1368.8 L2772.5 1223.8"/>
<path d="M2470 1569.5 L2697.5 1435 L2707.5 1433 L2873.8 1446.2"/>
<path d="M2458.8 1403.8 L2458.8 1333.8 L2462.5 1330 L2470 1328.8 L2475 1341.2 L2502.5 1356.2 L2512.5 1352.5 L2517.5 1355 L2535 1416.2"/>
<path d="M2462.5 1340 L2505 1361.2 L2505 1428.8" stroke-width="2.8"/>
<path d="M2458.8 1403.8 L2507.5 1431.2"/>
<path d="M2462.5 1331.2 L2472.5 1337.5" stroke-width="2.6"/>
<ellipse cx="2480.5" cy="1374.5" rx="4" ry="10.5" stroke-width="6" transform="rotate(-20 2480.5 1374.5)"/>
<path d="M2468 1368 L2492.5 1380" stroke-width="5"/>
<circle cx="2475.5" cy="1402" r="3.2" fill="#000" stroke="none"/>
<circle cx="2485" cy="1407" r="3.2" fill="#000" stroke="none"/>
<path d="M2773.6 1441 L2773.6 1832.5"/>
<path d="M2826 1445 L2826 1905"/>
<path d="M2920 1197 L2920 1812.5"/>
<path d="M2773.8 1219.2 L2780 1215 L2857.5 1170 L2866.2 1166.2 L2875 1167.5 L2917.5 1190 L2918.8 1197.5 L2837.5 1242.5 L2825 1246.8 L2815 1242.5 Z" stroke-width="5.2"/>
<path d="M2787.5 1216.2 L2787.5 1228" stroke-width="2.6"/>
<path d="M2906.2 1188.8 L2906.2 1200.5" stroke-width="2.6"/>
<path d="M2860 1175 L2877.5 1175" stroke-width="2.6"/>
<path d="M2870 1163.8 L2880 1151.2 L2891.2 1150" stroke-width="4"/>
<path d="M2890 1152 L2952.5 1187.5" stroke-width="6"/>
<path d="M2952.5 1186.2 L2952.5 1217.5 L2947.5 1220 L2922.5 1226.2"/>
<path d="M2885 1155 L2885 1171.2"/>
<path d="M2922.5 1197.5 L2952.5 1191.2"/>
<path d="M2948 1220 L2950 1292.5" stroke-width="5.5"/>
<path d="M2950 1292.5 L2952.5 1300 L2952.5 1326.2 L2922.5 1333.8"/>
<path d="M2922.5 1305 L2951.2 1297.5"/>
<path d="M2815 1243 L2825 1252.5 L2825 1258.8" stroke-width="2.8"/>
<path d="M2670 1151.2 L2693.8 1116.2 L2701.2 1112 L2740 1132.5 L2763.8 1197.5 L2758.8 1202.5 L2753.8 1201.2 Z"/>
<path d="M2698.8 1120 L2733.8 1138.8 L2755.5 1198" stroke-width="2.8"/>
<path d="M2733.8 1138.8 L2740 1133" stroke-width="2.6"/>
<ellipse cx="2713.8" cy="1152.5" rx="12.5" ry="18" transform="rotate(-25 2713.8 1152.5)"/>
<path d="M2710.8 1137 A9.5 16 -25 0 0 2722.5 1166.2" stroke-width="2.8"/>
<path d="M2640 1468.8 L2698.8 1435 L2707.5 1432.5 L2870 1447.5"/>
<path d="M2870 1447.5 C2873.8 1445.4 2885.8 1440 2892.5 1435 C2899.2 1430 2905.6 1423.3 2910 1417.5 C2914.4 1411.7 2917 1406.2 2918.8 1400 C2920.5 1393.8 2920.2 1383.3 2920.5 1380"/>
<ellipse cx="2878.8" cy="1395.5" rx="17" ry="26.2" stroke-width="4.5" transform="rotate(25 2878.8 1395.5)"/>
<path d="M2835 1492 L2967.5 1467 L2978 1470 L2985 1483.5 L2982 1505 L2845 1637.5 L2837.5 1632.5 L2835 1492"/>
<path d="M2842.5 1498 L2842.5 1632" stroke-width="2.8"/>
<path d="M2842.5 1498 L2960 1475" stroke-width="2.8"/>
<ellipse cx="2967.5" cy="1492" rx="7" ry="11" transform="rotate(25 2967.5 1492)"/>
<ellipse cx="2942.5" cy="1507.5" rx="3.5" ry="5" stroke-width="2.8" transform="rotate(25 2942.5 1507.5)"/>
<path d="M2771.5 1833.2 L2776.7 1837.6 L2822.1 1862.9 L2830.8 1863.7 L2918 1812.3 L2920.1 1803.6"/>
<path d="M2776.7 1838.5 L2820.3 1862.9" stroke-width="6"/>
<path d="M2920.1 1803.6 C2922.3 1805.9 2930.2 1812.3 2933.7 1817.5 C2937.1 1822.8 2939.2 1829.5 2940.6 1835 C2942 1840.5 2941.8 1848.1 2942 1850.7"/>
<path d="M2942 1850.7 L2942 1876.8 L2908.4 1936.1 L2860.4 1962.3 L2856.9 1962.3 L2825.5 1944 L2825.2 1899.5"/>
<path d="M2836 1876 L2931.9 1820.2"/>
<path d="M2770.6 1834.1 C2768.7 1835.1 2762.2 1837.7 2759.3 1840.2 C2756.4 1842.7 2754.2 1846 2753.2 1848.9 C2752.2 1851.8 2753.2 1856.2 2753.2 1857.6"/>
<path d="M2753.2 1857.6 L2753.2 1902.1 L2783.7 1920.4 L2788.9 1920.4 L2824.7 1899.5"/>
<path d="M2762.8 1904.7 C2762.7 1896.9 2761.8 1866.5 2762.2 1857.6 C2762.7 1848.8 2763.7 1852.9 2765.4 1851.5 C2767.1 1850.2 2770.5 1849.7 2772.4 1849.8 C2774.3 1849.9 2776 1852 2776.7 1852.4" stroke-width="3.2"/>
<path d="M2776.7 1852.4 L2811.6 1871.6" stroke-width="3.2"/>
<path d="M2811.6 1871.6 C2813 1873 2818.1 1876.5 2820.3 1880.3 C2822.5 1884.1 2823.9 1890.2 2824.7 1894.3 C2825.5 1898.3 2825.1 1903 2825.2 1904.7" stroke-width="3.2"/>
<path d="M2820.3 1862.9 C2821.9 1864.6 2827.3 1869 2829.9 1873.3 C2832.5 1877.7 2834.5 1884.1 2835.7 1889 C2836.8 1894 2836.7 1900.7 2836.9 1903"/>
<path d="M2836.9 1903 L2836.9 1947.4"/>
<ellipse cx="2809" cy="1885.5" rx="9.1" ry="14.8" transform="rotate(25 2809 1885.5)"/>
<path d="M2803.7 1894.3 L2813.3 1876.8" stroke-width="2.8"/>
<ellipse cx="2883.1" cy="1923.9" rx="11.9" ry="18.3" stroke-width="4.2" transform="rotate(25 2883.1 1923.9)"/>
<path d="M2874.4 1932.6 L2884.8 1913.4" stroke-width="2.8"/>
<circle cx="2918.3" cy="1884.7" r="3.8" fill="#000" stroke="none"/>
<path d="M1943.8 851.7 L2040 907.2"/>
<path d="M1820 669.2 L1823.8 667.5 L1832.5 673.8 L2003.8 673.8 L2008.8 670"/>
<path d="M1820 670 L1753.8 707.5"/>
<path d="M1753.8 707.5 C1752.5 707.3 1748.3 705.6 1746.2 706.2 C1744.2 706.9 1742.1 709.4 1741.2 711.2 C1740.4 713.1 1740.4 715.2 1741.2 717.5 C1742.1 719.8 1743.5 723.1 1746.2 725 C1749 726.9 1754.4 727.1 1757.5 728.8 C1760.6 730.4 1762.3 732.9 1765 735 C1767.7 737.1 1772.3 740.2 1773.8 741.2"/>
<path d="M1750 707.5 L1987.5 841.2"/>
<path d="M1987.5 841.2 C1989.6 843.5 1996.7 851.2 2000 855 C2003.3 858.8 2004.2 862.3 2007.5 863.8 C2010.8 865.2 2016.7 862.7 2020 863.8 C2023.3 864.8 2025.4 867.3 2027.5 870 C2029.6 872.7 2031.7 876.9 2032.5 880 C2033.3 883.1 2032.5 887.3 2032.5 888.8"/>
<path d="M1747.5 716.2 L1982.5 847.5" stroke-width="2.8"/>
<path d="M1982.5 847.5 C1984.6 850 1991.7 858.5 1995 862.5 C1998.3 866.5 1998.8 870 2002.5 871.2 C2006.2 872.5 2014 869.2 2017.5 870 C2021 870.8 2022.5 872.1 2023.8 876.2 C2025 880.4 2024.8 891.9 2025 895" stroke-width="2.8"/>
<path d="M1773.8 741.2 L1782.5 743.8 L1965 848.8 L1975 855 L1990 863.8 L2000 870"/>
<path d="M1758.8 720 C1759.4 721.7 1760.2 727.5 1762.5 730 C1764.8 732.5 1770.8 734.2 1772.5 735" stroke-width="2.8"/>
<path d="M1966.2 842.5 C1967.1 844.2 1969 850.2 1971.2 852.5 C1973.5 854.8 1978.5 855.6 1980 856.2" stroke-width="2.8"/>
<path d="M1780 743.8 L1780 756.2 L1796.2 765"/>
<path d="M1796.2 757 L1796.2 765"/>
<path d="M1783.8 750 L1790 750" stroke-width="5"/>
<path d="M1807.5 763.8 L1872.5 800 L1940 837.5 L1940 851.2"/>
<path d="M2022.5 875 L2022.5 897.5 L2045 909.5 L2046.2 893 L2033.8 888.8"/>
<path d="M2028.8 891.2 L2036.2 905" stroke-width="9"/>
<path d="M2088.8 722.5 L2088.8 820 L2100 827.5 L2105 835 L2106.2 897.5 L2100 902.5 L2093.8 903.8 L2035 888.8"/>
<path d="M2031.2 872.5 L2102.5 832.5"/>
<path d="M2003.8 673.8 L2007.5 667.5 L2015 666.2 L2102.5 715 L2102.5 725 L2088.8 722.5"/>
<path d="M2010 673 L2088.8 720.5" stroke-width="7"/>
<path d="M2051.2 695 L2060 692.5" stroke-width="2.6"/>
<path d="M1991.2 1176.2 C1991.9 1175 1992.9 1170.4 1995 1168.8 C1997.1 1167.1 2002.3 1166.7 2003.8 1166.2" stroke-width="3.9"/>
<path d="M2003.8 1166.2 L2336.2 1176.2" stroke-width="3.9"/>
<path d="M2336.2 1176.2 C2337.9 1176.9 2344 1177.7 2346.2 1180 C2348.5 1182.3 2349.4 1188.3 2350 1190" stroke-width="3.9"/>
<path d="M2350 1190 L2336.2 1270" stroke-width="3.9"/>
<path d="M2336.2 1270 C2335.6 1271.2 2334.8 1275.6 2332.5 1277.5 C2330.2 1279.4 2324.2 1280.6 2322.5 1281.2" stroke-width="3.9"/>
<path d="M2322.5 1281.2 L1993.8 1270" stroke-width="3.9"/>
<path d="M1993.8 1270 C1991.9 1269.4 1985 1268.3 1982.5 1266.2 C1980 1264.2 1979.4 1259 1978.8 1257.5" stroke-width="3.9"/>
<path d="M1978.8 1257.5 L1991.2 1176.2" stroke-width="3.9"/>
<path d="M1978.8 1265 C1979.2 1266.5 1979 1271.5 1981.2 1273.8 C1983.5 1276 1990.6 1277.9 1992.5 1278.8" stroke-width="3"/>
<path d="M1992.5 1278.8 L2325 1290" stroke-width="3"/>
<path d="M2325 1290 C2326.7 1289.2 2332.7 1287.1 2335 1285 C2337.3 1282.9 2337.9 1280.6 2338.8 1277.5 C2339.6 1274.4 2339.8 1268.1 2340 1266.2" stroke-width="3"/>
<path d="M2002.5 1280 L2010 1337.5 L2015 1343.8 L2300 1355 L2307.5 1350 L2311.2 1290" stroke-width="3.9"/>
<path d="M2008.8 1281.2 L2013 1322.5" stroke-width="2.6"/>
<path d="M2305 1290 L2305 1351.2" stroke-width="3"/>
<ellipse cx="2049.2" cy="1326.2" rx="5.5" ry="3.5" stroke-width="4"/>
<path d="M2247.5 1337.5 C2247.5 1334.6 2248.3 1328.8 2250 1325 C2251.7 1321.2 2254.2 1317.4 2257.5 1315 C2260.8 1312.6 2266 1310.7 2270 1310.5 C2274 1310.3 2278.3 1311.3 2281.2 1313.8 C2284.2 1316.2 2286.9 1321.2 2287.5 1325 C2288.1 1328.8 2287.1 1333.3 2285 1336.2 C2282.9 1339.2 2279.2 1341 2275 1342.5 C2270.8 1344 2264.2 1345 2260 1345 C2255.8 1345 2252.1 1343.8 2250 1342.5 C2247.9 1341.2 2247.5 1340.4 2247.5 1337.5 Z" stroke-width="4.2"/>
<circle cx="2268" cy="1337" r="4.5" fill="#000" stroke="none"/>
<path d="M2267.5 1472.5 L2267.5 1318.8 L2361.2 1322 L2361.2 1281.2" stroke-width="4.2"/>
<path d="M2361.2 1193.8 L2361.2 1257.5" stroke-width="4.2"/>
<path d="M2349.5 1167.5 L2353.8 1161.2 L2362.5 1158.8 L2371.2 1161.2 L2373.8 1167.5 L2372.5 1173.8 L2351.2 1173.8 Z" stroke-width="4.2"/>
<path d="M2353.8 1167.5 L2370 1167.5" stroke-width="2.6"/>
<path d="M2355.5 1173.8 L2355.5 1192.5 L2367.5 1192.5 L2367.5 1173.8"/>
<path d="M2356 1178.8 L2367 1178.8" stroke-width="2.6"/>
<path d="M2356 1183 L2367 1183" stroke-width="2.6"/>
<path d="M2356 1187.2 L2367 1187.2" stroke-width="2.6"/>
<path d="M2372.5 1176.2 L2410 1176.2" stroke-width="3.8"/>
<ellipse cx="2361.2" cy="1268.8" rx="19" ry="11" stroke-width="5"/>
<ellipse cx="2361.2" cy="1267" rx="10" ry="4.8" stroke-width="7"/>
<path d="M2381.2 1271.2 L2413.8 1271.2" stroke-width="3.8"/>
<path d="M1903 1227.5 L1999.5 1227.5" stroke-width="3.8"/>
<path d="M2038.8 1403.8 L2075 1405 L2063.8 1496.2 L2026.2 1496.2 Z" stroke-width="1.6" stroke-dasharray="0.1 3.6" stroke="#555"/>
<path d="M2035 1437.5 L2070 1438.8" stroke-width="1.6" stroke-dasharray="0.1 3.6" stroke="#555"/>
<path d="M2043.8 1460 L2067.5 1460.5" stroke-width="1.6" stroke-dasharray="0.1 3.6" stroke="#555"/>
<path d="M2258.8 1415 L2295 1416.2 L2283.8 1508.8 L2246.2 1507.5 Z" stroke-width="1.6" stroke-dasharray="0.1 3.6" stroke="#555"/>
<path d="M2253.8 1448.8 L2290 1450" stroke-width="1.6" stroke-dasharray="0.1 3.6" stroke="#555"/>
<path d="M2027.5 1490 L2063.8 1490.5" stroke-width="1.6" stroke-dasharray="0.1 3.6" stroke="#555"/>
<path d="M2247.5 1502.5 L2283.8 1503" stroke-width="1.6" stroke-dasharray="0.1 3.6" stroke="#555"/>
<path d="M2268 1560.9 L2268 1662.1" stroke-width="4.2"/>
<path d="M2268.3 1688.2 L2268.3 1745.8" stroke-width="4.2"/>
<ellipse cx="2268.3" cy="1674.6" rx="20.2" ry="11.5" stroke-width="5.5"/>
<ellipse cx="2268.3" cy="1677.8" rx="20.2" ry="10.5" stroke-width="2.5"/>
<ellipse cx="2268.3" cy="1673.4" rx="10.1" ry="4.7" stroke-width="7"/>
<path d="M2143.3 1671.6 L2248.8 1671.6" stroke-width="3.9"/>
<path d="M2247.9 1756.2 L2253.1 1748.4 L2268 1744.9 L2282.8 1748.4 L2288 1756.2 L2288 1766.7 L2282.8 1775.4 L2268 1780.3 L2253.1 1775.4 L2247.9 1766.7 Z" stroke-width="5.5"/>
<ellipse cx="2268" cy="1754.8" rx="10.8" ry="5.9" stroke-width="5"/>
<path d="M2248.8 1760.6 L2258.4 1764.9 L2278.4 1764.9 L2287.5 1760.6" stroke-width="3.5"/>
<path d="M2258.4 1764.9 L2258.4 1774.5" stroke-width="3.5"/>
<path d="M2278.4 1764.9 L2278.4 1774.5" stroke-width="3.5"/>
<path d="M2137.2 1762.8 L2247.9 1762.8" stroke-width="3.9"/>
<path d="M1005.5 640 L1010 631.2 L1023.8 628 L1037.5 631.2 L1040 640 L1040 646.2 L1035 652.5 L1011.2 652.5 L1005.5 646.2 Z" stroke-width="3.8"/>
<path d="M1005.5 640 L1012.5 645 L1033.8 645 L1040 640" stroke-width="2.8"/>
<path d="M1012.5 645 L1012.5 652.5" stroke-width="2.8"/>
<path d="M1033.8 645 L1033.8 652.5" stroke-width="2.8"/>
<path d="M1012.5 652.5 L1012.5 676.2 L1016.2 680 L1030 680 L1033.8 676.2 L1033.8 652.5" stroke-width="3.8"/>
<path d="M1013 658 L1033.2 656.5" stroke-width="2.8"/>
<path d="M1013 663 L1033.2 661.5" stroke-width="2.8"/>
<path d="M1013 668 L1033.2 666.5" stroke-width="2.8"/>
<path d="M1013 673 L1033.2 671.5" stroke-width="2.8"/>
<path d="M1023.2 681.2 L1023.2 782" stroke-width="4.2"/>
<path d="M949.6 1544.5 C950.4 1541.6 951.1 1536.8 954.9 1532.3 C958.7 1527.8 965 1521.8 972.3 1517.5 C979.6 1513.1 989.7 1508.8 998.5 1506.2 C1007.2 1503.5 1016.8 1501.8 1024.6 1501.8 C1032.5 1501.8 1040 1503.5 1045.5 1506.2 C1051.1 1508.8 1055.4 1513.4 1057.8 1517.5 C1060.1 1521.6 1060.1 1526.9 1059.5 1530.6 C1058.9 1534.2 1057.5 1536.4 1054.3 1539.3 C1051.1 1542.2 1047 1544.4 1040.3 1548 C1033.6 1551.6 1022 1557.9 1014.2 1561.1 C1006.3 1564.3 1000.2 1566.5 993.2 1567.2 C986.3 1567.9 978.4 1566.9 972.3 1565.4 C966.2 1564 960.2 1561.1 956.6 1558.5 C953 1555.9 951.7 1552.1 950.5 1549.7 C949.4 1547.4 948.9 1547.4 949.6 1544.5 Z"/>
<path d="M951.4 1559.3 C953.4 1560.6 958.7 1565.3 963.6 1567.2 C968.5 1569.1 975.5 1570.4 981 1570.7 C986.6 1571 990.6 1570.1 996.7 1568.9 C1002.8 1567.8 1014.2 1564.6 1017.6 1563.7" stroke-width="2.8"/>
<path d="M1017.6 1563.7 L1054.3 1547.1" stroke-width="2.8"/>
<path d="M942.7 1549.7 C942.8 1551.2 942.2 1555.6 943.5 1558.5 C944.8 1561.4 947.2 1564.6 950.5 1567.2 C953.9 1569.8 958.5 1572.4 963.6 1574.2 C968.7 1576 974.6 1577.7 981 1578 C987.4 1578.3 994.7 1577.3 1002 1575.9 C1009.2 1574.5 1020.8 1570.8 1024.6 1569.8" stroke-width="4.5"/>
<path d="M1024.6 1569.8 L1144.9 1536.7 L1151.9 1532.3"/>
<path d="M1017.6 1566.3 L1143.2 1532.3" stroke-width="2.8"/>
<ellipse cx="987.5" cy="1543.1" rx="18" ry="10.8"/>
<ellipse cx="987.5" cy="1546.3" rx="13.9" ry="7" stroke-width="2.8"/>
<path d="M977 1548.9 A10.8 4.2 0 0 0 997.9 1548.9" stroke-width="2.8"/>
<circle cx="1025.1" cy="1521.8" r="3.5" fill="#000" stroke="none"/>
<path d="M1042.1 1570.7 L1046.4 1580.8 L1124.9 1567.7 L1147.6 1545.9 L1146.7 1539.3"/>
<path d="M1047.3 1575 L1123.1 1562 L1131.9 1567.2" stroke-width="2.8"/>
<path d="M950.5 1575 C949.4 1576.3 944.8 1579 943.5 1582.9 C942.2 1586.8 941.7 1593.9 942.7 1598.6 C943.7 1603.2 945.9 1607.3 949.6 1610.8 C953.4 1614.3 959.2 1617.5 965.3 1619.5 C971.4 1621.5 979.9 1622.8 986.3 1623 C992.7 1623.1 1000.8 1620.8 1003.7 1620.4"/>
<path d="M1003.7 1620.4 L1115.3 1586.4"/>
<path d="M1115.3 1586.4 C1119.1 1584.8 1131.9 1580.8 1138 1576.8 C1144.1 1572.7 1148.3 1566.7 1151.9 1562 C1155.5 1557.2 1158.4 1550.3 1159.8 1548"/>
<path d="M947.9 1605.5 C950.2 1607.1 956.3 1612.8 961.8 1615.1 C967.4 1617.5 974.6 1619.1 981 1619.5 C987.4 1619.9 997 1618 1000.2 1617.8" stroke-width="2.8"/>
<path d="M1000.2 1617.8 L1113.5 1582.9 L1117 1585" stroke-width="2.8"/>
<path d="M944.4 1602.1 C945.4 1604.1 947 1610.6 950.5 1614.3 C954 1617.9 959.4 1621.5 965.3 1623.9 C971.3 1626.2 979.3 1627.9 986.3 1628.2 C993.2 1628.5 1003.7 1626 1007.2 1625.6" stroke-width="4.5"/>
<path d="M1007.2 1625.6 L1117 1591.6"/>
<path d="M1117 1591.6 C1121.1 1589.6 1135.1 1584 1141.4 1579.4 C1147.8 1574.7 1153.1 1566.3 1155.4 1563.7"/>
<ellipse cx="987.5" cy="1590.2" rx="18" ry="10.5"/>
<ellipse cx="987.5" cy="1593.3" rx="13.1" ry="6.1" stroke-width="2.8"/>
<path d="M949.6 1105.8 C950.4 1102.9 951.1 1098.1 954.9 1093.6 C958.7 1089.1 965 1083.1 972.3 1078.7 C979.6 1074.4 989.7 1070 998.5 1067.4 C1007.2 1064.8 1016.8 1063 1024.6 1063 C1032.5 1063 1040 1064.8 1045.5 1067.4 C1051.1 1070 1055.4 1074.7 1057.8 1078.7 C1060.1 1082.8 1060.1 1088.2 1059.5 1091.8 C1058.9 1095.4 1057.5 1097.6 1054.3 1100.5 C1051.1 1103.4 1047 1105.6 1040.3 1109.3 C1033.6 1112.9 1022 1119.1 1014.2 1122.3 C1006.3 1125.5 1000.2 1127.7 993.2 1128.4 C986.3 1129.2 978.4 1128.1 972.3 1126.7 C966.2 1125.2 960.2 1122.3 956.6 1119.7 C953 1117.1 951.7 1113.3 950.5 1111 C949.4 1108.7 948.9 1108.7 949.6 1105.8 Z"/>
<path d="M951.4 1120.6 C953.4 1121.9 958.7 1126.5 963.6 1128.4 C968.5 1130.3 975.5 1131.6 981 1131.9 C986.6 1132.2 990.6 1131.3 996.7 1130.2 C1002.8 1129 1014.2 1125.8 1017.6 1124.9" stroke-width="2.8"/>
<path d="M1017.6 1124.9 L1054.3 1108.4" stroke-width="2.8"/>
<path d="M942.7 1111 C942.8 1112.5 942.2 1116.8 943.5 1119.7 C944.8 1122.6 947.2 1125.8 950.5 1128.4 C953.9 1131 958.5 1133.6 963.6 1135.4 C968.7 1137.2 974.6 1139 981 1139.2 C987.4 1139.5 994.7 1138.5 1002 1137.2 C1009.2 1135.8 1020.8 1132.1 1024.6 1131" stroke-width="4.5"/>
<path d="M1024.6 1131 L1144.9 1097.9 L1151.9 1093.6"/>
<path d="M1017.6 1127.6 L1143.2 1093.6" stroke-width="2.8"/>
<ellipse cx="987.5" cy="1104.4" rx="18" ry="10.8"/>
<ellipse cx="987.5" cy="1107.5" rx="13.9" ry="7" stroke-width="2.8"/>
<path d="M977 1110.1 A10.8 4.2 0 0 0 997.9 1110.1" stroke-width="2.8"/>
<circle cx="1025.1" cy="1083.1" r="3.5" fill="#000" stroke="none"/>
<path d="M1042.1 1131.9 L1046.4 1142 L1124.9 1129 L1147.6 1107.2 L1146.7 1100.5"/>
<path d="M1047.3 1136.3 L1123.1 1123.2 L1131.9 1128.4" stroke-width="2.8"/>
<path d="M950.5 1136.3 C949.4 1137.6 944.8 1140.2 943.5 1144.1 C942.2 1148.1 941.7 1155.2 942.7 1159.8 C943.7 1164.5 945.9 1168.5 949.6 1172 C953.4 1175.5 959.2 1178.7 965.3 1180.7 C971.4 1182.8 979.9 1184.1 986.3 1184.2 C992.7 1184.4 1000.8 1182.1 1003.7 1181.6"/>
<path d="M1003.7 1181.6 L1115.3 1147.6"/>
<path d="M1115.3 1147.6 C1119.1 1146 1131.9 1142.1 1138 1138 C1144.1 1134 1148.3 1128 1151.9 1123.2 C1155.5 1118.4 1158.4 1111.6 1159.8 1109.3"/>
<path d="M947.9 1166.8 C950.2 1168.4 956.3 1174.1 961.8 1176.4 C967.4 1178.7 974.6 1180.3 981 1180.7 C987.4 1181.2 997 1179.3 1000.2 1179" stroke-width="2.8"/>
<path d="M1000.2 1179 L1113.5 1144.1 L1117 1146.2" stroke-width="2.8"/>
<path d="M944.4 1163.3 C945.4 1165.3 947 1171.9 950.5 1175.5 C954 1179.1 959.4 1182.8 965.3 1185.1 C971.3 1187.4 979.3 1189.2 986.3 1189.5 C993.2 1189.8 1003.7 1187.3 1007.2 1186.8" stroke-width="4.5"/>
<path d="M1007.2 1186.8 L1117 1152.8"/>
<path d="M1117 1152.8 C1121.1 1150.8 1135.1 1145.3 1141.4 1140.6 C1147.8 1136 1153.1 1127.6 1155.4 1124.9"/>
<ellipse cx="987.5" cy="1151.5" rx="18" ry="10.5"/>
<ellipse cx="987.5" cy="1154.6" rx="13.1" ry="6.1" stroke-width="2.8"/>
<path d="M1155.4 1563.7 L1216.4 1480" stroke-width="4.5"/>
<path d="M1002 1480 L943.5 1547.1"/>
<path d="M995 1487 L963.6 1521.8" stroke-width="2.8"/>
</svg></body></html>
